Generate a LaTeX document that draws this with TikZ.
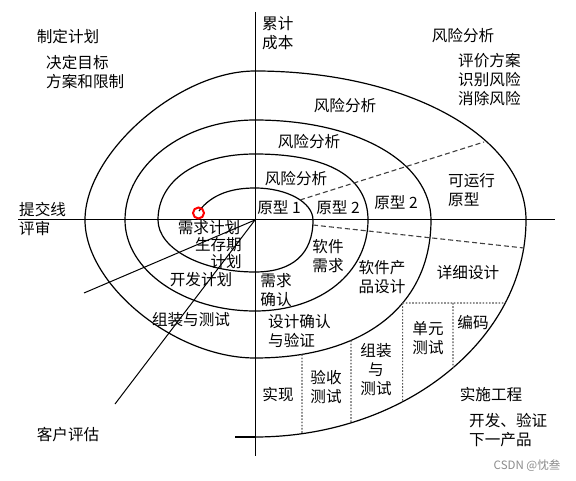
\documentclass[tikz,border=0pt]{standalone}
\usepackage{fontspec}
\setmainfont{Noto Sans CJK SC}
\usetikzlibrary{intersections}
\tikzset{
  spiral/.style={line width=1.2pt, black},
  axisline/.style={line width=1pt, black},
  lbl/.style={font=\fontsize{15.6}{19}\selectfont, inner sep=0pt, align=center},
  lbll/.style={lbl, align=left, anchor=west},
  lblr/.style={lbl, align=right, anchor=east},
  dsh/.style={dash pattern=on 5pt off 3pt, line width=1.1pt, black!75},
  dtt/.style={dash pattern=on 1.6pt off 1.6pt, line width=1.1pt, black!65},
  wm/.style={font=\fontsize{11.5}{14}\selectfont, inner sep=0pt, text=black!45},
}
\begin{document}
\begin{tikzpicture}[x=1pt,y=-1pt]
\useasboundingbox (0,0) rectangle (576,481);
\fill[white] (0,0) rectangle (576,481);
\coordinate (C) at (255,220);
% axes
\coordinate (vtop) at (255,12);
\coordinate (vbot) at (255,456);
\coordinate (hl) at (18,220);
\coordinate (hr) at (555,220);
\draw[axisline] (vtop) -- (vbot);
\draw[axisline] (hl) -- (hr);
% spiral
\draw[spiral] (199,211) .. controls (212,194) and (232,188) .. (255,188);
\draw[spiral] (255,188) .. controls (286.9,188) and (313,202.4) .. (313,220);
\draw[spiral] (313,220) .. controls (313,253.8) and (292.7,272) .. (255,272);
\draw[spiral] (255,272) .. controls (201.65,272) and (158,248.6) .. (158,220);
\draw[spiral] (158,220) .. controls (158,180.4) and (196.8,154) .. (255,154);
\draw[spiral] (255,154) .. controls (328.45,154) and (368,177.1) .. (368,220);
\draw[spiral] (368,220) .. controls (368,272.8) and (320.5,311) .. (255,311);
\draw[spiral] (255,311) .. controls (183.5,311) and (125,270) .. (125,220);
\draw[spiral] (125,220) .. controls (125,165) and (183.5,120) .. (255,120);
\draw[spiral] (255,120) .. controls (357,120) and (431,162) .. (431,220);
\draw[spiral, name path=lr3] (431,220) .. controls (431,305.6) and (364,358) .. (255,358);
\draw[spiral] (255,358) .. controls (175.1,358) and (85,284.9) .. (85,220);
\draw[spiral] (85,220) .. controls (85,153) and (178.5,71) .. (255,71);
\draw[spiral] (255,71) .. controls (406.8,71) and (526,136.6) .. (526,220);
\draw[spiral, name path=lr4] (526,220) .. controls (526,339.4) and (404,437) .. (255,437);
\draw[spiral] (255,437) -- (235,437);
% diagonal lines
\coordinate (d1) at (84,293);
\coordinate (d2) at (115,404);
\draw[line width=1pt] (C) -- (d1);
\draw[line width=1pt] (C) -- (d2);
% dashed lines
\coordinate (ua) at (300,200);
\coordinate (ub) at (484,142);
\coordinate (la) at (313,225);
\coordinate (lb) at (524,248);
\draw[dsh] (ua) -- (ub);
\draw[dsh] (la) -- (lb);
% dotted lines
\path[name path=v1] (302,250) -- (302,470);
\path[name intersections={of=v1 and lr3, by=v1a}];
\path[name intersections={of=v1 and lr4, by=v1b}];
\draw[dtt] (v1a) -- (v1b);
\path[name path=v2] (351,250) -- (351,470);
\path[name intersections={of=v2 and lr3, by=v2a}];
\path[name intersections={of=v2 and lr4, by=v2b}];
\draw[dtt] (v2a) -- (v2b);
\path[name path=hh] (380,303) -- (560,303);
\path[name intersections={of=hh and lr3, by=ha}];
\path[name intersections={of=hh and lr4, by=hb}];
\draw[dtt] (ha) -- (hb);
\path[name path=v3] (ha) -- ++(0,160);
\path[name intersections={of=v3 and lr4, by=v3b}];
\draw[dtt] (ha) -- (v3b);
\coordinate (v4a) at (453,303);
\path[name path=v4] (v4a) -- (453,470);
\path[name intersections={of=v4 and lr4, by=v4b}];
\draw[dtt] (v4a) -- (v4b);
% red circle
\node[draw=red, line width=2pt, circle, minimum size=11pt, inner sep=0pt] (start) at (198.5,213) {};
% labels
\node[lbll] (cost) at (262,33) {累计\\成本};
\node[lbl] (plan) at (68,37) {制定计划};
\node[lbll] (goal) at (46,72) {决定目标\\方案和限制};
\node[lbl] (risk0) at (463,36) {风险分析};
\node[lbll] (eval) at (458,80) {评价方案\\识别风险\\消除风险};
\node[lbl] (risk1) at (345,106) {风险分析};
\node[lbl] (risk2) at (309,142) {风险分析};
\node[lbl] (risk3) at (296,179) {风险分析};
\node[lbl] (proto1) at (279,208) {原型 1};
\node[lbl] (proto2a) at (338,208) {原型 2};
\node[lbl] (proto2b) at (396,203) {原型 2};
\node[lbll] (runproto) at (448,190) {可运行\\原型};
\node[lbll] (submit) at (19,210) {提交线};
\node[lbll] (review) at (19,229) {评审};
\node[lbl] (reqplan) at (209,228) {需求计划};
\node[lblr] (life) at (242,245) {生存期};
\node[lblr] (lifeplan) at (242,262) {计划};
\node[lbl] (devplan) at (201,280) {开发计划};
\node[lbl] (asm) at (191,320) {组装与测试};
\node[lbl] (swreq) at (328,256) {软件\\需求};
\node[lbl] (reqok) at (276,290) {需求\\确认};
\node[lbl] (prod) at (382,277) {软件产\\品设计};
\node[lbl] (detail) at (468,273) {详细设计};
\node[lbll] (desok) at (268,331) {设计确认\\与验证};
\node[lbl] (unit) at (428,338) {单元\\测试};
\node[lbl] (code) at (473,322) {编码};
\node[lbl] (asmtest) at (376,370) {组装\\与\\测试};
\node[lbl] (accept) at (326,387) {验收\\测试};
\node[lbl] (impl) at (278,395) {实现};
\node[lbl] (eng) at (491,395) {实施工程};
\node[lbll] (next) at (469,430) {开发、验证\\下一产品};
\node[lbl] (cust) at (68,435) {客户评估};
\node[wm] (mark) at (527,466) {CSDN @忱叁};
\end{tikzpicture}
\end{document}
